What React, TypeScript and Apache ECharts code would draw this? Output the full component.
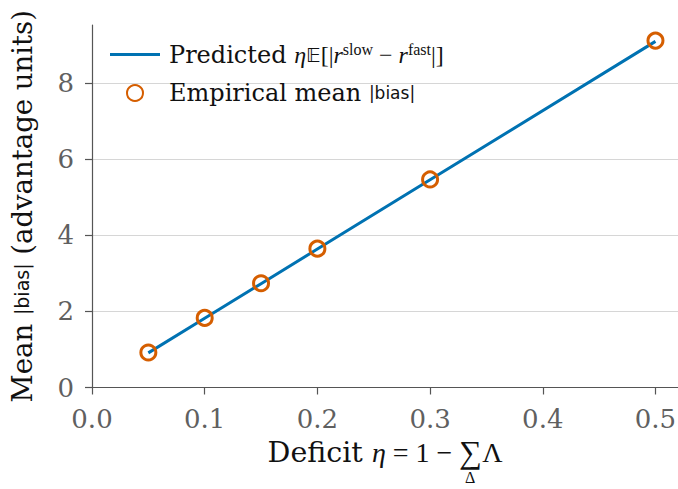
import React, { useEffect, useRef } from "react";
import * as echarts from "echarts";

const etaValues = [0.05, 0.1, 0.15, 0.2, 0.3, 0.5];
const predictedBias = [0.91, 1.82, 2.73, 3.64, 5.46, 9.1];
const empiricalBias = [0.92, 1.83, 2.74, 3.65, 5.47, 9.12];
const xTicks = [0, 0.1, 0.2, 0.3, 0.4, 0.5];
const yTicks = [0, 2, 4, 6, 8];

const SERIF = "'DejaVu Serif', serif";
const MATH = "'Liberation Serif', 'DejaVu Serif', serif";
const SANS = "'DejaVu Sans', sans-serif";

export default function App() {
  const ref = useRef<HTMLDivElement>(null);
  useEffect(() => {
    if (!ref.current) return;
    const chart = echarts.init(ref.current, undefined, { renderer: "svg" });
    const axisGrey = "#555555";
    const labelGrey = "#606060";
    const legendRich = {
      n: { fontFamily: SERIF, fontSize: 24, color: "#111", lineHeight: 30 },
      i: { fontFamily: MATH, fontStyle: "italic", fontSize: 24, color: "#111", lineHeight: 30 },
      m: { fontFamily: MATH, fontSize: 24, color: "#111", lineHeight: 30 },
      bb: { fontFamily: SANS, fontSize: 20, color: "#111", lineHeight: 30 },
      sup: { fontFamily: MATH, fontSize: 16, color: "#111", lineHeight: 30, padding: [0, 0, 11, 0] },
      s: { fontFamily: SANS, fontSize: 17, color: "#111", lineHeight: 30 },
      gap: { width: 4, lineHeight: 30 },
    };
    chart.setOption({
      animation: false,
      backgroundColor: "#ffffff",
      grid: {
        left: 92,
        right: 0,
        top: 25,
        bottom: 101.5,
        containLabel: false,
        outerBoundsMode: "none",
      },
      legend: {
        orient: "vertical",
        left: 110,
        top: 41,
        padding: 0,
        itemWidth: 50,
        itemHeight: 16,
        itemGap: 13,
        data: [
          { name: "Predicted", icon: "path://M0,0H50V3H0Z" },
          { name: "Empirical", icon: "circle" },
        ],
        formatter: (name: string) =>
          name === "Predicted"
            ? "{gap|}{n|Predicted }{i|η}{bb|𝔼}{m|[|}{i|r}{sup|slow}{m| − }{i|r}{sup|fast}{m||]}"
            : "{gap|}{n|Empirical mean }{s||bias|}",
        textStyle: { rich: legendRich },
      },
      xAxis: {
        type: "value",
        min: 0,
        max: 0.52,
        interval: 0.1,
        axisLine: { show: true, lineStyle: { color: axisGrey, width: 1.2 } },
        axisTick: { show: true, length: 7, lineStyle: { color: axisGrey, width: 1.2 }, customValues: xTicks },
        axisLabel: {
          customValues: xTicks,
          formatter: (v: number) => v.toFixed(1),
          fontFamily: SERIF,
          fontSize: 26,
          color: labelGrey,
          margin: 18,
        },
        splitLine: { show: false },
        name: "{n|Deficit }{i|η}{m| = 1 − }{big|∑}{m|Λ}",
        nameLocation: "middle",
        nameGap: 47,
        nameTextStyle: {
          rich: {
            n: { fontFamily: SERIF, fontSize: 28.5, color: "#111" },
            i: { fontFamily: MATH, fontStyle: "italic", fontSize: 28, color: "#111" },
            m: { fontFamily: MATH, fontSize: 28, color: "#111" },
            big: { fontFamily: MATH, fontSize: 32, color: "#111" },
          },
        },
      },
      yAxis: {
        type: "value",
        min: 0,
        max: 9.53,
        interval: 2,
        axisLine: { show: true, lineStyle: { color: axisGrey, width: 1.2 } },
        axisTick: { show: true, length: 7, lineStyle: { color: axisGrey, width: 1.2 }, customValues: yTicks },
        axisLabel: {
          customValues: yTicks,
          fontFamily: SERIF,
          fontSize: 26,
          color: labelGrey,
          margin: 18,
        },
        splitLine: {
          show: true,
          customValues: yTicks,
          lineStyle: { color: "#d6d6d6", width: 1.2 },
        },
        name: "{n|Mean }{s||bias|}{n| (advantage units)}",
        nameLocation: "middle",
        nameGap: 56,
        nameTextStyle: {
          rich: {
            n: { fontFamily: SERIF, fontSize: 27.5, color: "#111" },
            s: { fontFamily: SANS, fontSize: 19, color: "#111" },
          },
        },
      },
      graphic: [
        {
          type: "text",
          left: 465,
          top: 469,
          style: { text: "Δ", fontFamily: MATH, fontSize: 16, fill: "#111" },
        },
      ],
      series: [
        {
          name: "Predicted",
          type: "line",
          data: etaValues.map((x, k) => [x, predictedBias[k]]),
          symbol: "none",
          lineStyle: { color: "#0072B2", width: 3 },
          itemStyle: { color: "#0072B2" },
          z: 2,
        },
        {
          name: "Empirical",
          type: "scatter",
          data: etaValues.map((x, k) => [x, empiricalBias[k]]),
          symbol: "circle",
          symbolSize: 15,
          itemStyle: { color: "rgba(0,0,0,0)", borderColor: "#D55E00", borderWidth: 3, opacity: 1 },
          z: 3,
        },
      ],
    });
    return () => chart.dispose();
  }, []);
  return <div ref={ref} style={{ width: 678, height: 489, position: "absolute", left: 0, top: 0 }} />;
}
